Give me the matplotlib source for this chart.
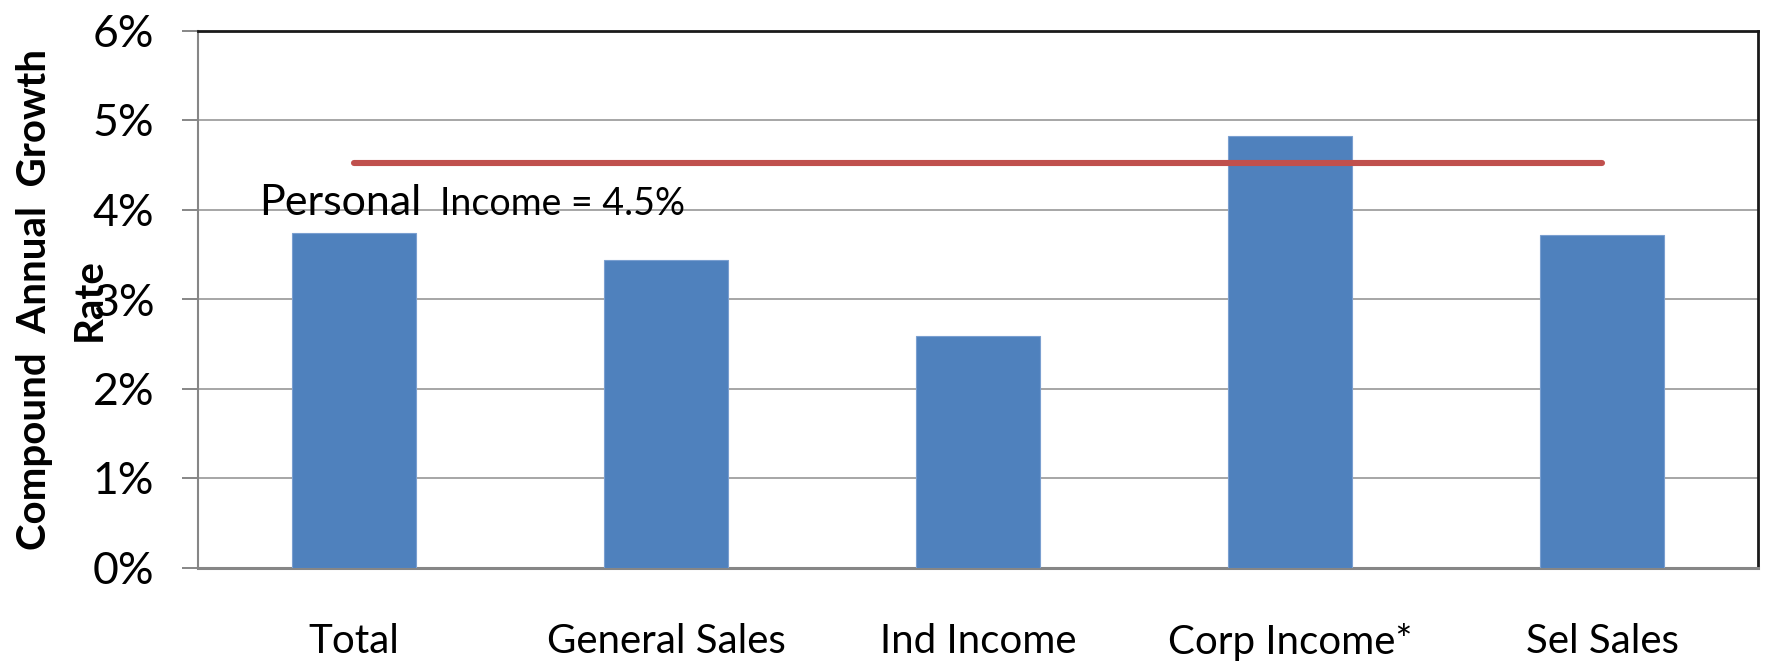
import matplotlib
matplotlib.use("Agg")
import matplotlib.pyplot as plt
from matplotlib.ticker import FuncFormatter

categories = ["Total", "General Sales", "Ind Income", "Corp Income*", "Sel Sales"]
growth = [3.74, 3.44, 2.59, 4.82, 3.71]
personal_income = [4.52, 4.52, 4.52, 4.52, 4.52]
yticks = [0, 1, 2, 3, 4, 5, 6]

plt.rcParams['font.family'] = ['Lato', 'DejaVu Sans']

W, H = 1767, 670
fig = plt.figure(figsize=(W / 100, H / 100), dpi=100)
ax = fig.add_axes([198 / W, 1 - 567.5 / H, 1560 / W, 537 / H])

x = list(range(len(categories)))
ax.bar(x, growth, width=0.4, color="#4F81BD", edgecolor="#7A9FD0", linewidth=0.8, zorder=3)
ax.plot(x, personal_income, color="#C0504D", linewidth=4.4, solid_capstyle="round", zorder=4)

ax.set_xlim(-0.5, len(categories) - 0.5)
ax.set_ylim(0, 6)
ax.set_yticks(yticks)
ax.yaxis.set_major_formatter(FuncFormatter(lambda v, p: f"{v:.0f}%"))
ax.set_xticks(x)
ax.set_xticklabels(categories, fontsize=29)
ax.tick_params(axis="x", length=0, pad=40)
ax.tick_params(axis="y", labelsize=32, length=11.5, width=1.4, color="#868686", pad=20)

ax.grid(axis="y", color="#A6A6A6", linewidth=1.4, zorder=0)
ax.set_axisbelow(True)

ax.spines["left"].set_color("#868686")
ax.spines["left"].set_linewidth(1.5)
ax.spines["bottom"].set_color("#868686")
ax.spines["bottom"].set_linewidth(2.2)
ax.spines["top"].set_color("#1A1A1A")
ax.spines["top"].set_linewidth(2.0)
ax.spines["right"].set_color("#1A1A1A")
ax.spines["right"].set_linewidth(2.0)

fig.text(35 / W, 1 - 300 / H, "Compound  Annual  Growth", rotation=90,
         ha="center", va="center", fontsize=29, fontweight="bold")
fig.text(89 / W, 1 - 300 / H, "Rate", rotation=90,
         ha="center", va="center", fontsize=29, fontweight="bold")

fig.text(259 / W, 1 - 215 / H, "Personal", fontsize=31, ha="left", va="baseline")
fig.text(440 / W, 1 - 215 / H, "Income = 4.5%", fontsize=27, ha="left", va="baseline")

fig.savefig("out.png", dpi=100)
